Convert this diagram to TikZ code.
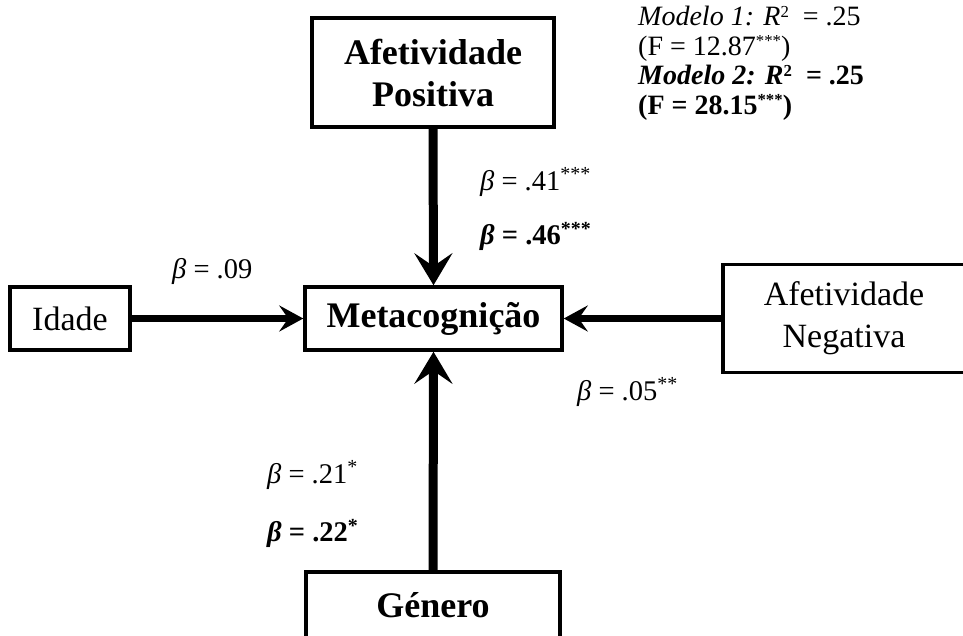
\documentclass[tikz,border=0pt]{standalone}
\usepackage{fontspec}
\setmainfont{Liberation Serif}
\usetikzlibrary{arrows.meta}
\newcommand{\supst}[1]{\raisebox{0.3em}{\fontsize{0.6em}{0.6em}\selectfont #1}}
\begin{document}
\begin{tikzpicture}[x=1pt,y=-1pt,
  box/.style={draw,line width=3.5pt,inner sep=0pt,align=center},
  bigfont/.style={font=\fontsize{36}{42}\selectfont\bfseries},
  regfont/.style={font=\fontsize{34}{42}\selectfont},
  betalab/.style={anchor=west,inner sep=0pt,font=\fontsize{28.5}{30}\selectfont},
  betabold/.style={anchor=west,inner sep=0pt,font=\fontsize{28.5}{30}\selectfont\bfseries},
  vline/.style={line width=9pt,-{Stealth[length=32pt,width=38pt,inset=13pt]}},
  hline/.style={line width=7.5pt,-{Stealth[length=24pt,width=26pt,inset=9pt]}}]
\useasboundingbox (0,0) rectangle (963,635);
\clip (0,0) rectangle (963,635);

\node[box,bigfont,minimum width=242pt,minimum height=109pt] (pos) at (433,72.5) {Afetividade\\Positiva};
\node[box,bigfont,minimum width=257pt,minimum height=63pt] (meta) at (433.5,318.5) {Metacognição};
\node[box,regfont,minimum width=120pt,minimum height=63pt] (idade) at (70,318.5) {Idade};
\node[box,regfont,minimum width=242pt,minimum height=108pt] (neg) at (844,318.5) {Afetividade\\Negativa};
\node[box,minimum width=254pt,minimum height=110pt] (gen) at (433,627) {};
\node[bigfont,inner sep=0pt] (gentext) at (433,605) {Género};

\draw[vline] (pos.south) -- (meta.north);
\draw[vline] (gen.north) -- (meta.south);
\draw[hline] (idade.east) -- (meta.west);
\draw[hline] (neg.west) -- (meta.east);

\node[betalab] (b41) at (480,182) {{\itshape β} = .41\textsuperscript{***}};
\node[betabold] (b46) at (480,236) {{\itshape β} = .46\textsuperscript{***}};
\node[betalab] (b09) at (172,271) {{\itshape β} = .09};
\node[betalab] (b05) at (577,392) {{\itshape β} = .05\textsuperscript{**}};
\node[betalab] (b21) at (267,475) {{\itshape β} = .21\textsuperscript{*}};
\node[betabold] (b22) at (267,533) {{\itshape β} = .22\textsuperscript{*}};

\node[anchor=north west,inner sep=0pt,align=left,font=\fontsize{28}{29.5}\selectfont] (model) at (638,6)
  {\textit{Modelo 1: R}\supst{2}\ \ = .25\\
   (F = 12.87\supst{***})\\
   \textbf{\textit{Modelo 2: R}\supst{2}\ \ = .25}\\
   \textbf{(F = 28.15\supst{***})}};
\end{tikzpicture}
\end{document}
